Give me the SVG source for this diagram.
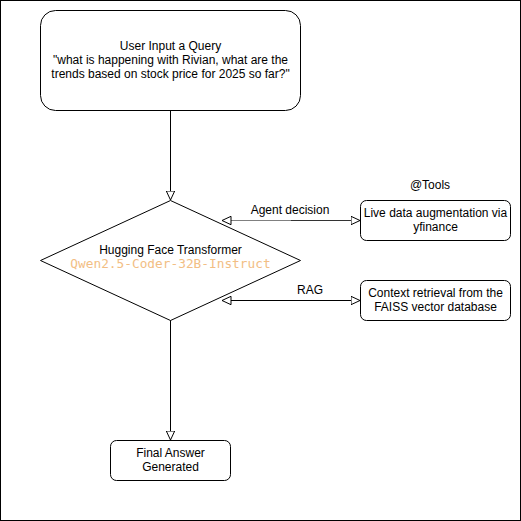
<svg xmlns="http://www.w3.org/2000/svg" width="521" height="521" viewBox="0 0 521 521">
<style>
.n{fill:#fff;stroke:#000;stroke-width:1}
.t{font-family:"Liberation Sans",Arial,sans-serif;font-size:12px;fill:#000;text-anchor:middle}
.m{font-family:"DejaVu Sans Mono","Liberation Mono",monospace;font-size:12.8px;fill:#F2BE84;text-anchor:middle}
.c{fill:none;stroke-width:1}
</style>
<defs>
<marker id="ah" viewBox="0 0 10 10" refX="9.5" refY="5" markerWidth="10" markerHeight="10" markerUnits="userSpaceOnUse" orient="auto-start-reverse">
<path d="M0.5,0.8 L9.5,5 L0.5,9.2 Z" fill="#fff" stroke="#000" stroke-width="1"/>
</marker>
<linearGradient id="g1" x1="222" y1="0" x2="360" y2="0" gradientUnits="userSpaceOnUse">
<stop offset="0" stop-color="#808080"/><stop offset="0.5" stop-color="#808080"/><stop offset="0.5" stop-color="#333"/><stop offset="1" stop-color="#333"/>
</linearGradient>
</defs>
<rect x="0.5" y="0.5" width="520" height="520" fill="#fff" stroke="#000"/>
<g id="connectors">
<path class="c" stroke="#000" d="M170.5,110 V200" marker-end="url(#ah)"/>
<path class="c" stroke="url(#g1)" stroke-width="1.5" d="M222,220.5 H360" marker-start="url(#ah)" marker-end="url(#ah)"/>
<path class="c" stroke="#000" d="M222,300.5 H360" marker-start="url(#ah)" marker-end="url(#ah)"/>
<path class="c" stroke="#000" d="M170.5,320 V440" marker-end="url(#ah)"/>
<text class="t" x="290" y="214">Agent decision</text>
<text class="t" x="310" y="294">RAG</text>
</g>
<g id="user-input">
<rect class="n" x="40.5" y="10.5" width="260" height="100" rx="15" ry="15"/>
<text class="t" x="170.5" y="50">User Input a Query</text>
<text class="t" x="170.5" y="64">"what is happening with Rivian, what are the</text>
<text class="t" x="170.5" y="78">trends based on stock price for 2025 so far?"</text>
</g>
<g id="transformer">
<path class="n" d="M170.5,200.5 L300.5,260.5 L170.5,320.5 L40.5,260.5 Z"/>
<text class="t" x="170.5" y="254">Hugging Face Transformer</text>
<text class="m" x="170.5" y="268">Qwen2.5-Coder-32B-Instruct</text>
</g>
<g id="tools-label">
<text class="t" x="430" y="189">@Tools</text>
</g>
<g id="yfinance">
<rect class="n" x="360.5" y="200.5" width="150" height="40" rx="6" ry="6"/>
<text class="t" x="435.5" y="217">Live data augmentation via</text>
<text class="t" x="435.5" y="231">yfinance</text>
</g>
<g id="faiss">
<rect class="n" x="360.5" y="280.5" width="150" height="40" rx="6" ry="6"/>
<text class="t" x="435.5" y="297">Context retrieval from the</text>
<text class="t" x="435.5" y="311">FAISS vector database</text>
</g>
<g id="final-answer">
<rect class="n" x="110.5" y="440.5" width="120" height="40" rx="6" ry="6"/>
<text class="t" x="170.5" y="457">Final Answer</text>
<text class="t" x="170.5" y="471">Generated</text>
</g>
</svg>
